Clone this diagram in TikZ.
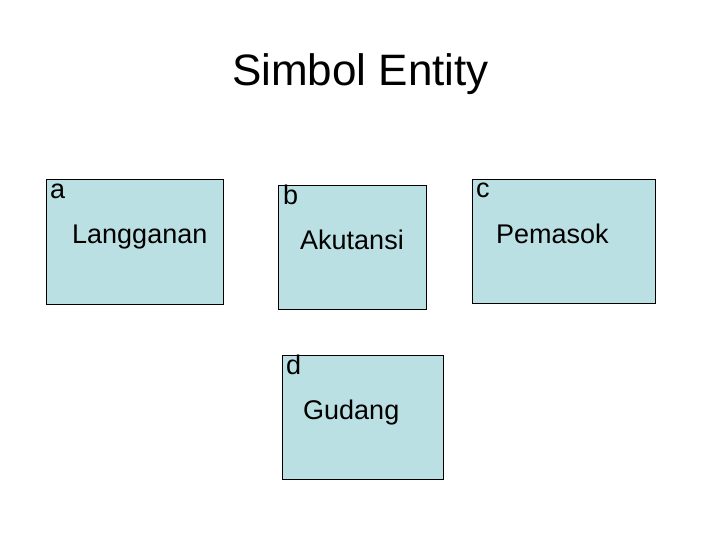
\documentclass[tikz,border=0pt]{standalone}
\usepackage{fontspec}
\setmainfont{Liberation Sans}
\usepackage{xcolor}
\usetikzlibrary{positioning}
\definecolor{entityfill}{RGB}{187,224,227}

\begin{document}
\begin{tikzpicture}[
	x = 1bp, y = -1bp,
	entity/.style = {draw = black, line width = 0.8pt, fill = entityfill, inner sep = 0pt, minimum height = 124bp},
	boxtext/.style = {anchor = base west, inner sep = 0pt, font = \fontsize{27bp}{32bp}\selectfont},
	every node/.style = {text = black}
	]
	
	\useasboundingbox (0, 0) rectangle (720, 540);
	
	\node[anchor = base west, inner sep = 0pt, font = \fontsize{44bp}{52bp}\selectfont] (title) at (232, 86) {Simbol Entity};
	
	% entities
	\node[entity, minimum width = 177bp, minimum height = 125bp] (a) at (134.5, 241.5) {};
	\node[entity, minimum width = 148bp] (b) at (352, 247) {};
	\node[entity, minimum width = 183bp] (c) at (563.5, 241) {};
	\node[entity, minimum width = 161bp] (d) at (362.5, 417) {};
	
	% letters
	\node[boxtext] (la) at (50, 199) {a};
	\node[boxtext] (lb) at (283, 205) {b};
	\node[boxtext] (lc) at (476, 198) {c};
	\node[boxtext] (ld) at (286, 374) {d};
	
	% names
	\node[boxtext] (langganan) at (72, 244) {Langganan};
	\node[boxtext] (akutansi) at (300, 250) {Akutansi};
	\node[boxtext] (pemasok) at (496, 244) {Pemasok};
	\node[boxtext] (gudang) at (303, 419) {Gudang};

\end{tikzpicture}
\end{document}
